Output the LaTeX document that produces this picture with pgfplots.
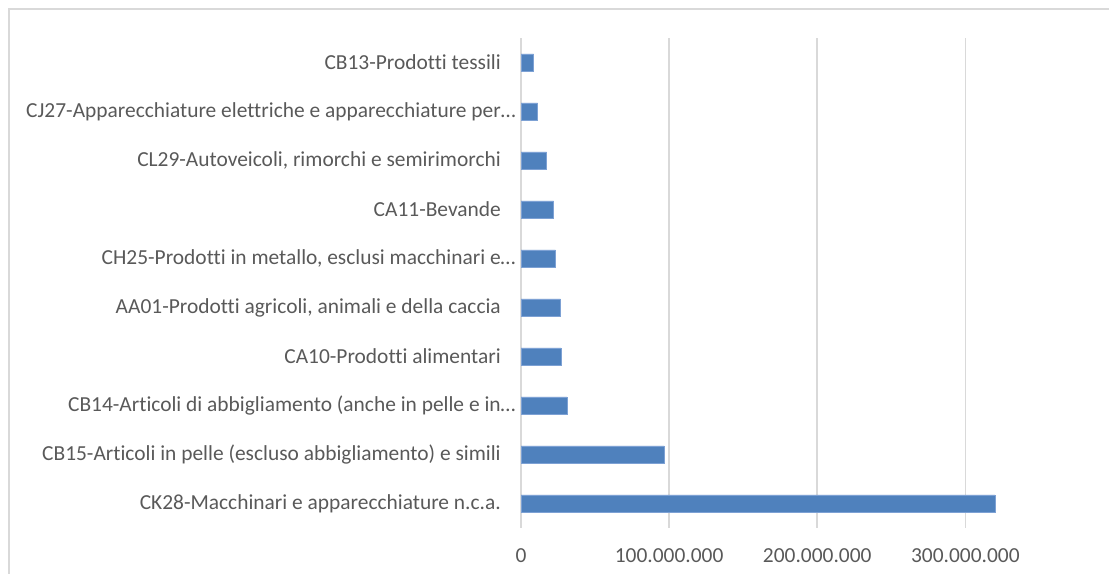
\documentclass[border=0pt]{standalone}
\usepackage{fontspec}
\setmainfont{Carlito}[Ligatures={NoCommon}]
\usepackage{pgfplots}
\pgfplotsset{compat=1.18}
\definecolor{barblue}{HTML}{4F81BD}
\definecolor{bardraw}{HTML}{7DA1D4}
\definecolor{gridgray}{HTML}{D9D9D9}
\definecolor{labelgray}{HTML}{595959}
\begin{document}
\begin{tikzpicture}
\useasboundingbox (0bp,0bp) rectangle (1109bp,574bp);
% outer chart frame (cut off right and bottom)
\draw[gridgray, line width=1.5bp] (9bp,-30bp) -- (9bp,565bp) -- (1130bp,565bp);
\begin{axis}[
    at={(521bp,46bp)}, anchor=south west,
    scale only axis, width=588bp, height=490bp,
    xmin=0, xmax=397e6, ymin=-0.5, ymax=9.5,
    axis x line*=bottom, axis y line*=left,
    axis line style={draw=none},
    major tick length=0,
    xmajorgrids, grid style={gridgray, line width=1.5bp},
    xtick={0,100000000,200000000,300000000},
    scaled x ticks=false,
    /pgf/number format/.cd, fixed, precision=0, 1000 sep={.}, assume math mode=true,
    /pgfplots/.cd,
    ytick={0,...,9},
    yticklabels={
        {CK28-Macchinari e apparecchiature n.c.a.},
        {CB15-Articoli in pelle (escluso abbigliamento) e simili},
        {CB14-Articoli di abbigliamento (anche in pelle e in\rlap{…}},
        {CA10-Prodotti alimentari},
        {AA01-Prodotti agricoli, animali e della caccia},
        {CH25-Prodotti in metallo, esclusi macchinari e\rlap{…}},
        {CA11-Bevande},
        {CL29-Autoveicoli, rimorchi e semirimorchi},
        {CJ27-Apparecchiature elettriche e apparecchiature per\rlap{…}},
        {CB13-Prodotti tessili}},
    tick label style={font=\fontsize{21.5}{25}\selectfont, text=labelgray, inner sep=0pt},
    yticklabel style={anchor=east, xshift=-20bp},
    xticklabel style={anchor=center, yshift=-28bp},
    clip=false,
]
\addplot[xbar, bar width=17bp, fill=barblue, draw=bardraw, line width=0.75bp] coordinates {
    (320e6,0) (96.6e6,1) (31e6,2) (27e6,3) (26.6e6,4)
    (23.2e6,5) (22e6,6) (17.3e6,7) (11.2e6,8) (8.5e6,9)
};
\end{axis}
\end{tikzpicture}
\end{document}
